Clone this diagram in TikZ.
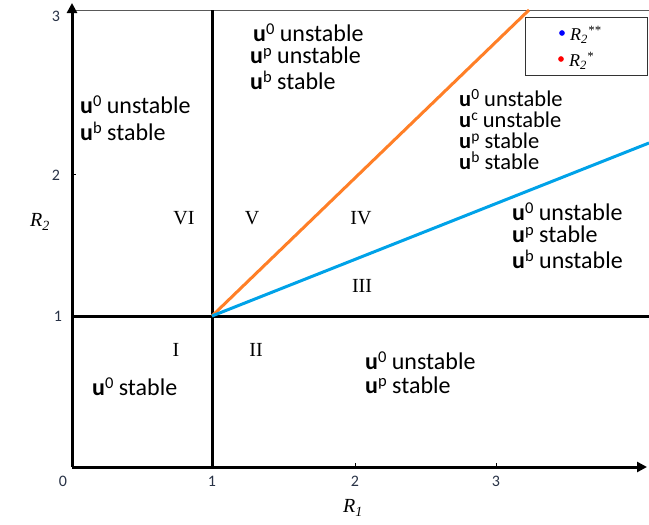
\documentclass[tikz,border=0pt]{standalone}
\usepackage{fontspec}
\setmainfont{Carlito}
\newfontfamily\serifR{Liberation Serif}
\usetikzlibrary{arrows.meta}
\definecolor{tickc}{RGB}{40,50,70}
\definecolor{orangeL}{RGB}{255,127,39}
\definecolor{blueL}{RGB}{0,162,232}
\tikzset{
  axis/.style={line width=3pt,-{Triangle[length=10pt,width=10pt]}},
  bound/.style={line width=3pt},
  lbl/.style={font=\fontsize{24}{25}\selectfont,anchor=base west,inner sep=0pt,text height=0.5em,text depth=0pt},
  lblsm/.style={lbl,font=\fontsize{22.5}{24}\selectfont},
  roman/.style={font=\serifR\fontsize{20}{22}\selectfont,inner sep=0pt},
  tick/.style={font=\fontsize{16}{18}\selectfont,text=tickc,inner sep=0pt},
  axlab/.style={font=\serifR\itshape\fontsize{20}{24}\selectfont,inner sep=0pt}
}
\newcommand{\uu}[1]{\textbf{u}\raisebox{0.6ex}{\fontsize{16.5}{16.5}\selectfont #1}}
\newcommand{\uus}[1]{\textbf{u}\raisebox{0.6ex}{\fontsize{15.5}{15.5}\selectfont #1}}
\begin{document}
\begin{tikzpicture}[x=1pt,y=-1pt]
\useasboundingbox (0,0) rectangle (649,525);
\coordinate (C) at (212,316);
\coordinate (XS) at (72,467);
\coordinate (XE) at (647,467);
\coordinate (YE) at (72,3);
\coordinate (VT) at (212,10);
\coordinate (VB) at (212,467);
\coordinate (HL) at (72,316);
\coordinate (HR) at (649,316);
\coordinate (OT) at (529,10);
\coordinate (BT) at (649,143);
\coordinate (TL) at (72,10);
\coordinate (TR) at (649,10);
% top border
\draw[gray!70!black,line width=1pt] (TL) -- (TR);
% region boundaries
\draw[bound] (VB) -- (VT);
\draw[bound] (HL) -- (HR);
\draw[orangeL,line width=3pt] (C) -- (OT);
\draw[blueL,line width=3pt] (C) -- (BT);
% axes
\draw[axis] (XS) -- (XE);
\draw[axis] (XS) -- (YE);
% ticks
\draw[line width=0.5pt] (355,467) -- (355,463);
\draw[line width=0.5pt] (496,467) -- (496,463);
\draw[line width=0.5pt] (72,174) -- (76,174);
% tick labels
\node[tick] (t0) at (63,481) {0};
\node[tick] (tx1) at (212,481) {1};
\node[tick] (tx2) at (355,481) {2};
\node[tick] (tx3) at (496,481) {3};
\node[tick] (ty1) at (58,316) {1};
\node[tick] (ty2) at (56,175) {2};
\node[tick] (ty3) at (56,16) {3};
% axis labels
\node[axlab] (r1) at (353,508) {R\textsubscript{1}};
\node[axlab] (r2) at (40,222) {R\textsubscript{2}};
% roman numerals
\node[roman] (n1) at (176,350) {I};
\node[roman] (n2) at (256,350) {II};
\node[roman] (n3) at (362,286) {III};
\node[roman] (n4) at (361,218) {IV};
\node[roman] (n5) at (252,218) {V};
\node[roman] (n6) at (184,218) {VI};
% region VI
\node[lbl] (a6a) at (80,113) {\uu{0} unstable};
\node[lbl] (a6b) at (80,140) {\uu{b} stable};
% region V
\node[lbl] (a5a) at (253,41) {\uu{0} unstable};
\node[lbl] (a5b) at (250,63) {\uu{p} unstable};
\node[lbl] (a5c) at (250,89) {\uu{b} stable};
% region IV
\node[lblsm] (a4a) at (459,106) {\uus{0} unstable};
\node[lblsm] (a4b) at (459,127) {\uus{c} unstable};
\node[lblsm] (a4c) at (459,148) {\uus{p} stable};
\node[lblsm] (a4d) at (459,169) {\uus{b} stable};
% region III
\node[lbl] (a3a) at (512,220) {\uu{0} unstable};
\node[lbl] (a3b) at (512,242) {\uu{p} stable};
\node[lbl] (a3c) at (512,268) {\uu{b} unstable};
% region II
\node[lbl] (a2a) at (365,369) {\uu{0} unstable};
\node[lbl] (a2b) at (365,393) {\uu{p} stable};
% region I
\node[lbl] (a1a) at (92,395) {\uu{0} stable};
% legend
\node[draw=black!80,line width=1.2pt,minimum width=122pt,minimum height=58pt,anchor=north west,inner sep=0pt] (leg) at (525,17) {};
\node[circle,fill=blue,inner sep=2pt] (d1) at (562,33) {};
\node[circle,fill=red,inner sep=2pt] (d2) at (561,59) {};
\node[axlab,anchor=west,font=\serifR\itshape\fontsize{18}{20}\selectfont] (l1) at (570,35) {R\textsubscript{2}\textsuperscript{**}};
\node[axlab,anchor=west,font=\serifR\itshape\fontsize{18}{20}\selectfont] (l2) at (569,61) {R\textsubscript{2}\textsuperscript{*}};
\end{tikzpicture}
\end{document}
